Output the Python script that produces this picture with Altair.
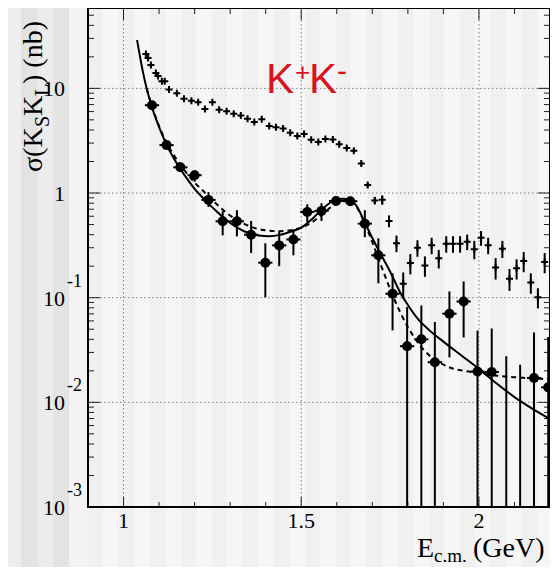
import altair as alt
import pandas as pd
import numpy as np

# ---------------- data ----------------
# K_S K_L cross section (filled points)
ks_E = [1.080, 1.121, 1.160, 1.200, 1.239, 1.279, 1.319, 1.359, 1.399, 1.438,
        1.478, 1.517, 1.557, 1.598, 1.638, 1.679, 1.717, 1.757, 1.798, 1.838,
        1.876, 1.917, 1.957, 1.996, 2.036, 2.077, 2.116, 2.155, 2.195]
ks_sig = [6.9, 2.87, 1.76, 1.48, 0.86, 0.537, 0.537, 0.40, 0.216, 0.316,
          0.36, 0.66, 0.675, 0.84, 0.835, 0.51, 0.254, 0.109, 0.0344, 0.040,
          0.0242, 0.0703, 0.092, 0.0197, 0.0195, 0.0, 0.0, 0.0171, 0.0139]
ks_lo = [6.3, 2.65, 1.6, 1.28, 0.736, 0.394, 0.385, 0.267, 0.101, 0.2,
         0.254, 0.526, 0.54, 0.76, 0.76, 0.378, 0.137, 0.0487, 0.0, 0.0,
         0.0, 0.0269, 0.0417, 0.0, 0.0, 0.0, 0.0, 0.0, 0.0]
ks_hi = [7.5, 3.1, 1.92, 1.65, 1.02, 0.67, 0.685, 0.541, 0.331, 0.43,
         0.45, 0.78, 0.80, 0.93, 0.92, 0.685, 0.369, 0.171, 0.0813, 0.0843,
         0.0585, 0.1148, 0.143, 0.0487, 0.0508, 0.0276, 0.0229, 0.0466, 0.042]

# K+K- cross section (crosses)
kk_E = [1.063, 1.069, 1.077, 1.091, 1.097, 1.108, 1.116, 1.128, 1.150, 1.170,
        1.191, 1.210, 1.229, 1.250, 1.269, 1.290, 1.310, 1.330, 1.349, 1.368,
        1.389, 1.410, 1.429, 1.449, 1.469, 1.489, 1.508, 1.528, 1.548, 1.568,
        1.589, 1.607, 1.628, 1.648, 1.669, 1.687, 1.707, 1.728, 1.747, 1.768,
        1.787, 1.807, 1.827, 1.848, 1.867, 1.887, 1.908, 1.927, 1.947, 1.967,
        1.987, 2.006, 2.026, 2.047, 2.066, 2.086, 2.106, 2.126, 2.146, 2.166,
        2.185]
kk_sig = [21.3, 19.5, 16.7, 14.0, 13.1, 11.7, 11.7, 9.78, 8.96, 7.95,
          7.60, 7.35, 6.34, 7.35, 6.24, 6.03, 5.71, 5.52, 5.12, 4.76,
          5.08, 4.36, 4.26, 4.14, 3.76, 3.50, 3.66, 3.22, 3.08, 3.29,
          3.25, 2.93, 2.70, 2.53, 1.91, 1.19, 0.848, 0.861, 0.541, 0.332,
          0.136, 0.214, 0.300, 0.203, 0.317, 0.238, 0.328, 0.328, 0.328, 0.343,
          0.291, 0.373, 0.317, 0.194, 0.294, 0.152, 0.191, 0.224, 0.140, 0.101,
          0.219]
kk_err = [0.8, 0.7, 0.6, 0.5, 0.5, 0.4, 0.4, 0.3, 0.3, 0.25,
          0.25, 0.25, 0.2, 0.2, 0.2, 0.2, 0.2, 0.2, 0.15, 0.15,
          0.15, 0.15, 0.15, 0.15, 0.12, 0.12, 0.12, 0.1, 0.1, 0.1,
          0.1, 0.1, 0.1, 0.1, 0.08, 0.06, 0.07, 0.09, 0.07, 0.06,
          0.038, 0.047, 0.054, 0.045, 0.057, 0.048, 0.059, 0.059, 0.059, 0.058,
          0.058, 0.06, 0.057, 0.045, 0.055, 0.036, 0.042, 0.049, 0.031, 0.022,
          0.048]

# fit curves, read as log10(sigma / nb)
sol_E = [1.038, 1.045, 1.055, 1.065, 1.080, 1.100, 1.120, 1.140, 1.160, 1.180,
         1.200, 1.230, 1.260, 1.290, 1.320, 1.350, 1.380, 1.410, 1.440, 1.470,
         1.500, 1.530, 1.560, 1.590, 1.615, 1.635, 1.655, 1.680, 1.700, 1.720,
         1.750, 1.780, 1.800, 1.830, 1.860, 1.900, 1.950, 2.000, 2.050, 2.100,
         2.150, 2.200]
sol_log = [1.462, 1.33, 1.15, 1.00, 0.82, 0.63, 0.47, 0.34, 0.23, 0.13,
           0.04, -0.07, -0.17, -0.26, -0.33, -0.38, -0.405, -0.412, -0.40, -0.37,
           -0.33, -0.25, -0.15, -0.075, -0.055, -0.06, -0.12, -0.29, -0.43, -0.56,
           -0.75, -0.96, -1.07, -1.21, -1.31, -1.42, -1.55, -1.68, -1.82, -1.95,
           -2.06, -2.16]
dash_E = [1.065, 1.080, 1.100, 1.120, 1.140, 1.160, 1.180, 1.200, 1.230, 1.260,
          1.290, 1.320, 1.350, 1.380, 1.410, 1.440, 1.470, 1.500, 1.530, 1.560,
          1.590, 1.615, 1.635, 1.655, 1.680, 1.700, 1.720, 1.740, 1.760, 1.780,
          1.800, 1.820, 1.840, 1.860, 1.890, 1.920, 1.960, 2.000, 2.050, 2.100,
          2.150, 2.200]
dash_log = [1.00, 0.83, 0.64, 0.49, 0.37, 0.27, 0.18, 0.10, 0.0, -0.10,
            -0.19, -0.26, -0.31, -0.345, -0.36, -0.365, -0.355, -0.33, -0.28, -0.20,
            -0.12, -0.075, -0.07, -0.13, -0.30, -0.47, -0.65, -0.83, -1.00, -1.15,
            -1.28, -1.39, -1.48, -1.55, -1.62, -1.67, -1.70, -1.72, -1.745, -1.76,
            -1.77, -1.78]

# axes
x_major = [1.0, 1.5, 2.0]
x_major_txt = ["1", "1.5", "2"]
x_minor = [1.1, 1.2, 1.3, 1.4, 1.6, 1.7, 1.8, 1.9, 2.1]
y_major = [0.01, 0.1, 1.0, 10.0]
y_label_vals = [0.001, 0.01, 0.1, 1.0, 10.0]
y_label_txt = ["10", "10", "10", "1", "10"]
y_minor = [m * d for d in [0.001, 0.01, 0.1, 1.0, 10.0] for m in range(2, 10) if m * d < 58]
y_exponents = [-1, -2, -3]

# ---------------- layout / style ----------------
W, H = 462, 499
PADL, PADB = 80, 60
X_DOM = [0.9, 2.2]
Y_DOM = [0.001, 58.6]
SERIF = "Liberation Serif"

xs = alt.Scale(domain=X_DOM, nice=False, zero=False)
ys = alt.Scale(type="log", domain=Y_DOM, nice=False)

# background stripes (page decoration, pixels relative to plot origin)
stripes = [(-88, -82, "#e3e3e3"), (-82, -67, "#eeeeee"), (-67, -50, "#e3e3e3"),
           (-50, -35, "#ececec"), (-35, -19, "#e4e4e4"), (-19, 0, "#f3f3f3")]
for k in range(15):
    s = 0 + 31 * k
    stripes.append((s, s + 15, "#f0f0f0"))
stripe_df = pd.DataFrame(stripes, columns=["a", "b", "c"])

ks = pd.DataFrame({"E": ks_E, "sig": ks_sig, "lo": ks_lo, "hi": ks_hi})
ks["lo_d"] = np.maximum(ks["lo"], 1e-4)
ks["El"] = ks["E"] - 0.02
ks["Er"] = ks["E"] + 0.02
ks_pts = ks[ks["sig"] > 0]
kk = pd.DataFrame({"E": kk_E, "sig": kk_sig, "err": kk_err})
kk["lo"] = kk["sig"] - kk["err"]
kk["hi"] = kk["sig"] + kk["err"]
sol = pd.DataFrame({"E": sol_E, "sig": [10.0 ** v for v in sol_log]})
dash = pd.DataFrame({"E": dash_E, "sig": [10.0 ** v for v in dash_log]})

bg = alt.Chart(stripe_df).mark_rect().encode(
    x=alt.X("a:Q", scale=None), x2="b:Q",
    y=alt.value(-8), y2=alt.value(H + PADB),
    color=alt.Color("c:N", scale=None),
)

gx = alt.Chart(pd.DataFrame({"v": x_major})).mark_rule(
    color="#808080", strokeWidth=1, strokeDash=[1.5, 2.5]).encode(
    x=alt.X("v:Q", scale=xs, axis=None), y=alt.value(0), y2=alt.value(H))
gy = alt.Chart(pd.DataFrame({"v": y_major})).mark_rule(
    color="#808080", strokeWidth=1, strokeDash=[1.5, 2.5]).encode(
    y=alt.Y("v:Q", scale=ys, axis=None), x=alt.value(0), x2=alt.value(W))

def yticks(vals, length):
    df = pd.DataFrame({"v": vals})
    left = alt.Chart(df).mark_rule(color="#222", strokeWidth=1).encode(
        y=alt.Y("v:Q", scale=ys, axis=None), x=alt.value(0), x2=alt.value(length))
    right = alt.Chart(df).mark_rule(color="#222", strokeWidth=1).encode(
        y=alt.Y("v:Q", scale=ys, axis=None), x=alt.value(W - length), x2=alt.value(W))
    return left + right

def xticks(vals, lb, lt):
    df = pd.DataFrame({"v": vals})
    bot = alt.Chart(df).mark_rule(color="#222", strokeWidth=1).encode(
        x=alt.X("v:Q", scale=xs, axis=None), y=alt.value(H - lb), y2=alt.value(H))
    top = alt.Chart(df).mark_rule(color="#222", strokeWidth=1).encode(
        x=alt.X("v:Q", scale=xs, axis=None), y=alt.value(0), y2=alt.value(lt))
    return bot + top

ticks = yticks(y_minor, 6) + yticks(y_major, 12) + xticks(x_minor, 5, 6) + xticks(x_major, 10, 12)

# tick labels
xlab = alt.Chart(pd.DataFrame({"v": x_major, "t": x_major_txt})).mark_text(
    font=SERIF, fontSize=22, align="center", baseline="top", color="black").encode(
    x=alt.X("v:Q", scale=xs, axis=None), y=alt.value(H + 4), text="t:N")
ylab = alt.Chart(pd.DataFrame({"v": y_label_vals, "t": y_label_txt})).mark_text(
    font=SERIF, fontSize=22, align="right", baseline="middle", dy=1, color="black").encode(
    y=alt.Y("v:Q", scale=ys, axis=None), x=alt.value(-23), text="t:N")
expo = alt.Chart(pd.DataFrame({"v": [10.0 ** e for e in y_exponents],
                               "t": [str(e) for e in y_exponents]})).mark_text(
    font=SERIF, fontSize=18, align="left", baseline="middle", dy=-16, color="black").encode(
    y=alt.Y("v:Q", scale=ys, axis=None), x=alt.value(-21), text="t:N")

# data layers
kk_bar = alt.Chart(kk).mark_rule(color="black", strokeWidth=2, clip=True).encode(
    x=alt.X("E:Q", scale=xs, axis=None), y=alt.Y("lo:Q", scale=ys, axis=None), y2="hi:Q")
kk_pt = alt.Chart(kk).mark_point(shape="M-1,0L1,0M0,-1L0,1", size=49, filled=False,
                                 color="black", strokeWidth=2, opacity=1, clip=True).encode(
    x=alt.X("E:Q", scale=xs, axis=None), y=alt.Y("sig:Q", scale=ys, axis=None))

ks_bar = alt.Chart(ks).mark_rule(color="black", strokeWidth=2, clip=True).encode(
    x=alt.X("E:Q", scale=xs, axis=None), y=alt.Y("lo_d:Q", scale=ys, axis=None), y2="hi:Q")
ks_hbar = alt.Chart(ks_pts).mark_rule(color="black", strokeWidth=2, clip=True).encode(
    x=alt.X("El:Q", scale=xs, axis=None), x2="Er:Q", y=alt.Y("sig:Q", scale=ys, axis=None))
ks_pt = alt.Chart(ks_pts).mark_point(shape="circle", size=100, filled=True,
                                     color="black", opacity=1, clip=True).encode(
    x=alt.X("E:Q", scale=xs, axis=None), y=alt.Y("sig:Q", scale=ys, axis=None))

sol_line = alt.Chart(sol).mark_line(color="black", strokeWidth=2, interpolate="monotone",
                                    clip=True).encode(
    x=alt.X("E:Q", scale=xs, axis=None), y=alt.Y("sig:Q", scale=ys, axis=None))
dash_line = alt.Chart(dash).mark_line(color="black", strokeWidth=2, strokeDash=[5, 4],
                                      interpolate="monotone", clip=True).encode(
    x=alt.X("E:Q", scale=xs, axis=None), y=alt.Y("sig:Q", scale=ys, axis=None))

frame = alt.Chart(pd.DataFrame({"a": [0]})).mark_rect(
    fillOpacity=0, stroke="black", strokeWidth=2).encode(
    x=alt.value(0), x2=alt.value(W), y=alt.value(0), y2=alt.value(H))

# titles / annotations
serif_txt = pd.DataFrame([
    ("σ(K", -46, 164, 28, 270),
    ("S", -39, 119, 20, 270),
    ("K", -46, 108, 28, 270),
    ("L", -39, 88, 20, 270),
    (") (nb)", -46, 76, 28, 270),
    ("E", 329, 549, 28, 0),
    ("c.m.", 346, 554, 19, 0),
    ("(GeV)", 385, 549, 28, 0),
], columns=["t", "px", "py", "fs", "ang"])
titles = alt.Chart(serif_txt).mark_text(font=SERIF, align="left", baseline="alphabetic",
                                        color="black").encode(
    x=alt.X("px:Q", scale=None), y=alt.Y("py:Q", scale=None), text="t:N",
    size=alt.Size("fs:Q", scale=None, legend=None), angle=alt.Angle("ang:Q", scale=None))

red_txt = pd.DataFrame([
    ("K", 178, 85, 42),
    ("+", 207, 73, 26),
    ("K", 221, 85, 42),
    ("-", 249, 73, 30),
], columns=["t", "px", "py", "fs"])
label = alt.Chart(red_txt).mark_text(font="Liberation Sans", align="left", baseline="alphabetic",
                                     color="#d7141e").encode(
    x=alt.X("px:Q", scale=None), y=alt.Y("py:Q", scale=None), text="t:N",
    size=alt.Size("fs:Q", scale=None, legend=None))

chart = alt.layer(
    bg, gx, gy, ticks, xlab, ylab, expo,
    kk_bar, kk_pt, dash_line, sol_line, ks_bar, ks_hbar, ks_pt,
    frame, titles, label,
).properties(
    width=W, height=H,
    autosize=alt.AutoSizeParams(type="none"),
    padding={"left": PADL, "top": 0, "right": 0, "bottom": PADB},
    background="#f6f6f6",
).configure_view(stroke="transparent", fill="#f6f6f6")

chart.save("out.html", embed_options={"renderer": "svg", "actions": False})
